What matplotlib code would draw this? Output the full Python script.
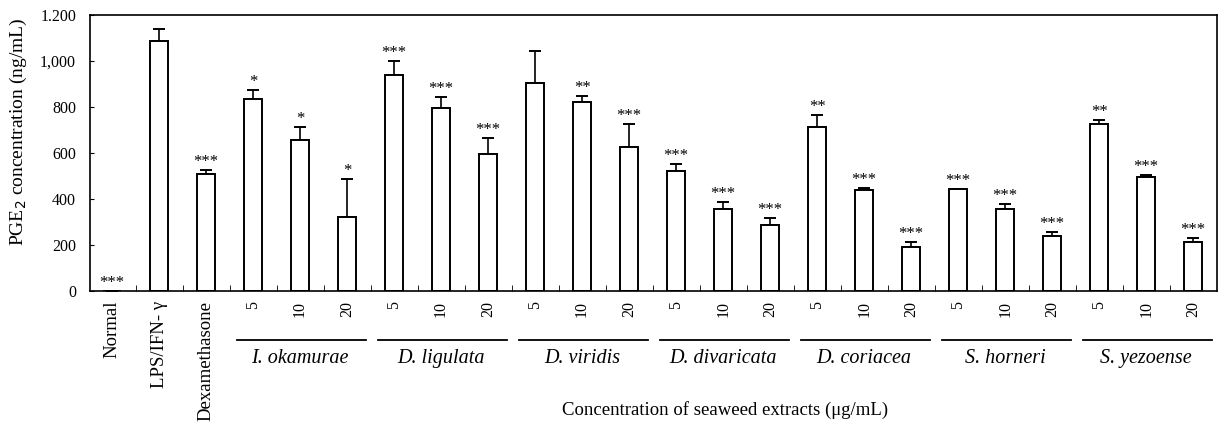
import matplotlib.pyplot as plt
import matplotlib.transforms as mtransforms
import numpy as np

plt.rcParams['font.family'] = ['Liberation Serif', 'DejaVu Serif']

# data
categorias = ['Normal', 'LPS/IFN- γ', 'Dexamethasone',
              '5', '10', '20', '5', '10', '20', '5', '10', '20', '5', '10', '20',
              '5', '10', '20', '5', '10', '20', '5', '10', '20']
valores = [0, 1085, 510,
           835, 655, 320,
           940, 795, 595,
           905, 820, 625,
           520, 355, 285,
           715, 437, 190,
           442, 357, 240,
           724, 497, 214]
errores = [0, 55, 15,
           40, 60, 165,
           60, 50, 70,
           138, 26, 100,
           33, 33, 34,
           49, 13, 22,
           3, 22, 16,
           21, 9, 16]
signif = ['***', '', '***',
          '*', '*', '*',
          '***', '***', '***',
          '', '**', '***',
          '***', '***', '***',
          '**', '***', '***',
          '***', '***', '***',
          '**', '***', '***']
grupos = ['I. okamurae', 'D. ligulata', 'D. viridis', 'D. divaricata',
          'D. coriacea', 'S. horneri', 'S. yezoense']
yticks = [0, 200, 400, 600, 800, 1000, 1200]
yticklabels = ['0', '200', '400', '600', '800', '1,000', '1.200']

pos = np.arange(len(categorias))

fig = plt.figure(figsize=(12.18, 4.34), dpi=100)
ax = fig.add_axes([0.0739, 0.3295, 0.9254, 0.6359])

ax.bar(pos, valores, 0.39, color='white', edgecolor='black', linewidth=1.4, zorder=2)
ax.errorbar(pos, valores, yerr=[np.zeros(len(pos)), errores], fmt='none',
            ecolor='black', elinewidth=1.2, capsize=4.5, capthick=1.4, zorder=1)

for x, v, e, s in zip(pos, valores, errores, signif):
    if s:
        ax.annotate(s, (x, v + e), xytext=(0, 0), textcoords='offset points',
                    ha='center', va='bottom', fontsize=12)

ax.set_xlim(-0.47, 23.51)
ax.set_ylim(0, 1200)
ax.set_yticks(yticks)
ax.set_yticklabels(yticklabels, fontsize=11.5)
ax.tick_params(axis='y', direction='in', length=3, pad=10)

ax.set_xticks(pos)
ax.set_xticklabels(categorias, rotation=90, va='top', ha='center')
ax.set_xticks(pos[:-1] + 0.5, minor=True)
ax.tick_params(axis='x', which='major', length=0, pad=7)
ax.tick_params(axis='x', which='minor', direction='in', length=4)
for i, lab in enumerate(ax.get_xticklabels()):
    lab.set_fontsize(13.5 if i < 3 else 11.5)

for sp in ax.spines.values():
    sp.set_linewidth(1.2)

# group lines and names under the x axis
trans = mtransforms.blended_transform_factory(ax.transData, ax.transAxes)
for g, nombre in enumerate(grupos):
    c0 = 3 + 3 * g
    ax.plot([c0 - 0.35, c0 + 2.4], [-0.178, -0.178], color='black', lw=1.3,
            transform=trans, clip_on=False)
    ax.text(c0 + 1, -0.245, nombre, transform=trans, ha='center', va='center',
            fontsize=14.5, style='italic')

ax.set_ylabel('PGE$_2$ concentration (ng/mL)', fontsize=14)
ax.yaxis.set_label_coords(-0.054, 0.575)
fig.text(0.595, 0.055, 'Concentration of seaweed extracts (μg/mL)',
         ha='center', va='center', fontsize=13.5)

fig.savefig('out.png', dpi=100)
